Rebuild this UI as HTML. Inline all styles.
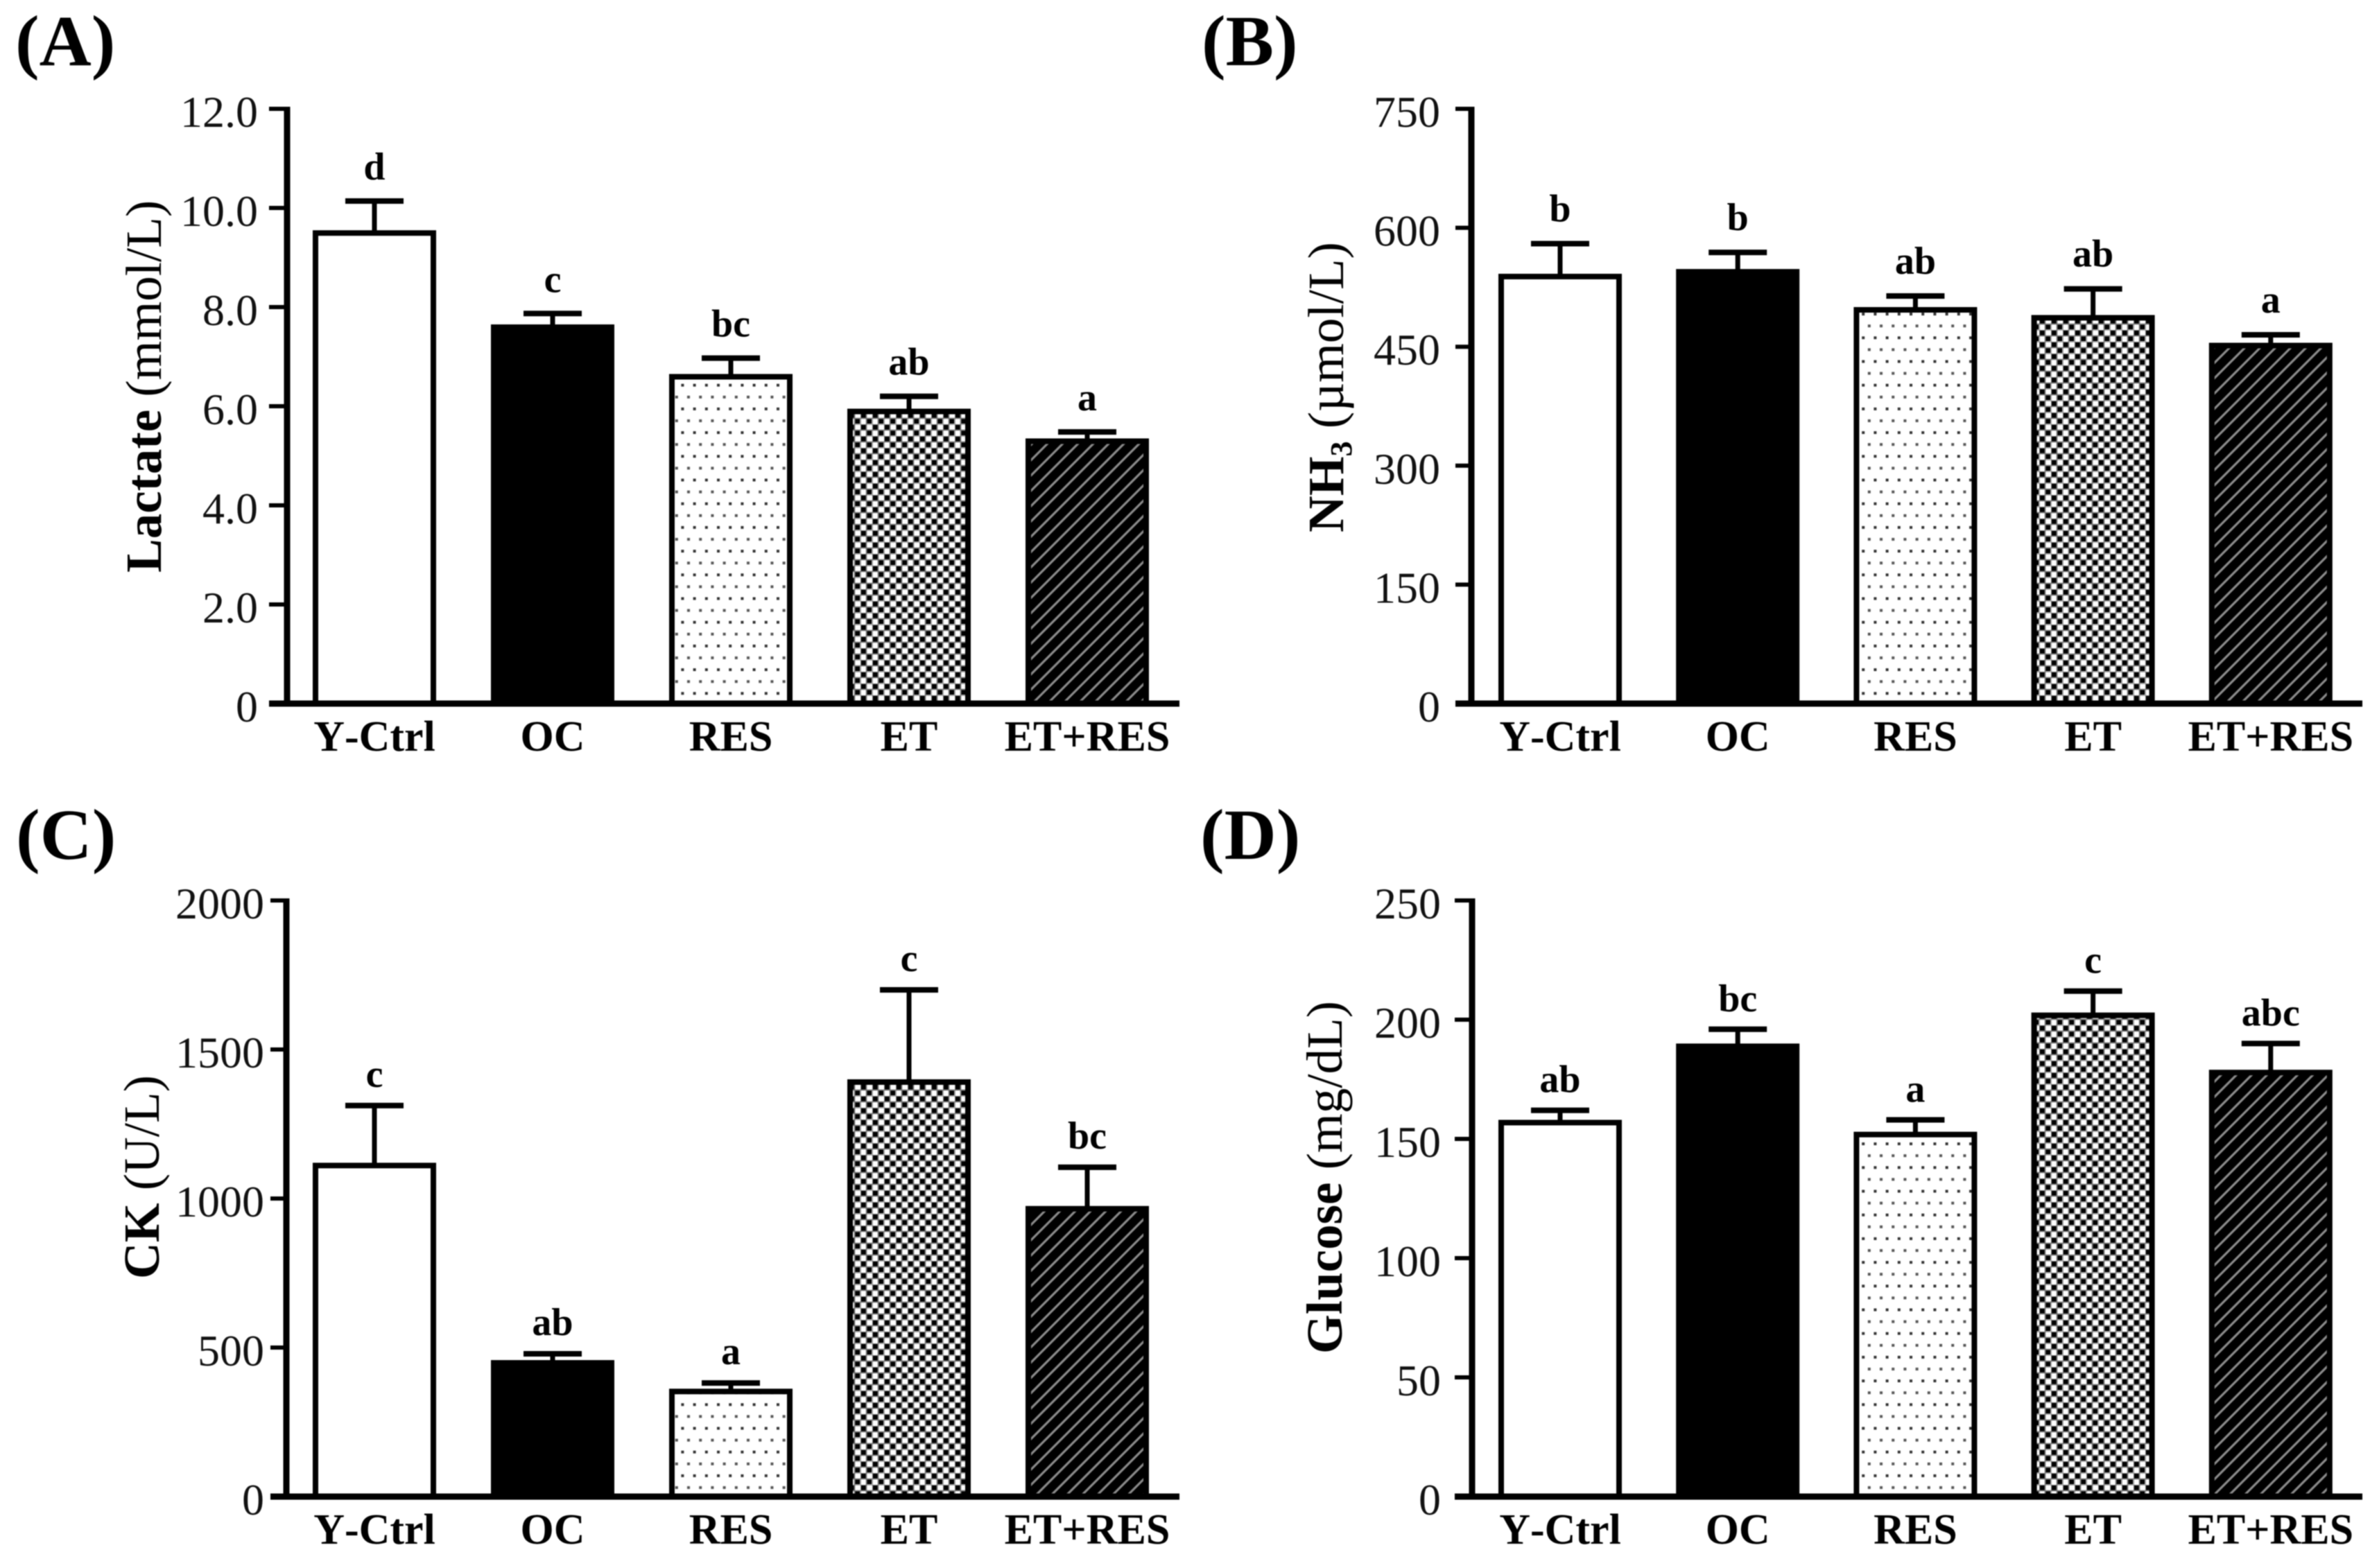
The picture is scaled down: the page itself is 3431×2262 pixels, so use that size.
<!DOCTYPE html>
<html lang="en">
<head>
<meta charset="utf-8">
<title>Lactate, NH3, CK and Glucose bar charts</title>
<style>
html,body{margin:0;padding:0;background:#fff;width:3431px;height:2262px;overflow:hidden}
svg{display:block;position:absolute;left:0;top:0;filter:blur(0.8px)}
text{font-family:"Liberation Serif","Times New Roman",serif;fill:#000}
.panel{font-size:104px;font-weight:bold}
.title{font-size:73px}
.title .b{font-weight:bold}
.tick{font-size:64px;text-anchor:end;fill:#111}
.cat{font-size:62px;font-weight:bold;text-anchor:middle;font-kerning:none}
.sig{font-size:56px;font-weight:bold;text-anchor:middle}
</style>
</head>
<body>
<svg id="fig" xmlns="http://www.w3.org/2000/svg" width="3431" height="2262" viewBox="0 0 3431 2262">
  <defs>
    <pattern id="p-dots" patternUnits="userSpaceOnUse" width="17.2" height="34.2" x="0" y="0">
      <rect width="17.2" height="34.2" fill="#fff"/>
      <rect x="2" y="6.5" width="4" height="4" fill="#333"/>
      <rect x="10.6" y="23.6" width="4" height="4" fill="#555"/>
    </pattern>
    <pattern id="p-check" patternUnits="userSpaceOnUse" width="17" height="17">
      <rect width="17" height="17" fill="#fff"/>
      <rect x="0.8" y="0.8" width="7" height="7" fill="#000"/>
      <rect x="9.3" y="9.3" width="7" height="7" fill="#000"/>
      <path d="M0 0H17M0 8.5H17M8.5 0V17M0 0V17" stroke="#707070" stroke-width="1.6" fill="none"/>
    </pattern>
    <pattern id="p-hatch" patternUnits="userSpaceOnUse" width="15.6" height="15.6" patternTransform="rotate(45)">
      <rect width="15.6" height="15.6" fill="#000"/>
      <rect x="6" y="0" width="3.2" height="15.6" fill="#8c8c8c"/>
    </pattern>
  </defs>

  <text class="panel" x="22" y="94">(A)</text>
  <text class="panel" x="1733" y="94">(B)</text>
  <text class="panel" x="23" y="1239">(C)</text>
  <text class="panel" x="1731" y="1239">(D)</text>

  <text class="title" transform="translate(232 826) rotate(-90)"><tspan class="b">Lactate</tspan> (mmol/L)</text>
  <text class="title" transform="translate(1937 768) rotate(-90)"><tspan class="b">NH</tspan><tspan class="b" font-size="44" dy="12">3</tspan><tspan dy="-12"> (µmol/L)</tspan></text>
  <text class="title" transform="translate(229 1845) rotate(-90)"><tspan class="b">CK</tspan> (U/L)</text>
  <text class="title" transform="translate(1935 1953) rotate(-90)"><tspan class="b">Glucose</tspan> (mg/dL)</text>
</svg>

<script>
// Shared categories
const categories = ['Y-Ctrl', 'OC', 'RES', 'ET', 'ET+RES'];

// Panel A: Lactate (mmol/L)
const lactateTicks = ['0', '2.0', '4.0', '6.0', '8.0', '10.0', '12.0'];
const lactateMeans = [9.55, 7.65, 6.65, 5.95, 5.35];
const lactateErrors = [0.59, 0.22, 0.32, 0.25, 0.13];
const lactateLetters = ['d', 'c', 'bc', 'ab', 'a'];

// Panel B: NH3 (umol/L)
const nh3Ticks = ['0', '150', '300', '450', '600', '750'];
const nh3Means = [542, 548, 500, 490, 455];
const nh3Errors = [38, 21, 14, 33, 10];
const nh3Letters = ['b', 'b', 'ab', 'ab', 'a'];

// Panel C: CK (U/L)
const ckTicks = ['0', '500', '1000', '1500', '2000'];
const ckMeans = [1120, 458, 362, 1400, 975];
const ckErrors = [192, 21, 19, 300, 130];
const ckLetters = ['c', 'ab', 'a', 'c', 'bc'];

// Panel D: Glucose (mg/dL)
const glucoseTicks = ['0', '50', '100', '150', '200', '250'];
const glucoseMeans = [158, 190, 153, 203, 179];
const glucoseErrors = [4, 6, 5, 9, 11];
const glucoseLetters = ['ab', 'bc', 'a', 'c', 'abc'];

const svg = document.getElementById('fig');
const NS = 'http://www.w3.org/2000/svg';
const fills = ['#fff', '#000', 'url(#p-dots)', 'url(#p-check)', 'url(#p-hatch)'];

function make(tag, attrs, parent) {
  const el = document.createElementNS(NS, tag);
  for (const k in attrs) el.setAttribute(k, attrs[k]);
  parent.appendChild(el);
  return el;
}

function drawPanel(cfg) {
  const g = make('g', {}, svg);
  
  

  const tickVals = cfg.ticks.map(parseFloat);
  const yMax = Math.max.apply(null, tickVals);
  const y = v => cfg.base - (v / yMax) * (cfg.base - cfg.top);
  const x = i => cfg.x0 + cfg.dx * i;
  const barW = 178, bw = 8;

  cfg.means.forEach((m, i) => {
    const yTop = y(m);
    const yErr = y(m + cfg.errors[i]);

    const stem = make('line', {x1: x(i), x2: x(i), y1: yErr, y2: yTop + 2, stroke: '#000', 'stroke-width': 7}, g);
    
    

    const cap = make('line', {x1: x(i) - 42, x2: x(i) + 42, y1: yErr, y2: yErr, stroke: '#000', 'stroke-width': 8}, g);
    
    

    const bar = make('rect', {
      x: x(i) - barW / 2 + bw / 2,
      y: yTop + bw / 2,
      width: barW - bw,
      height: Math.max(0, cfg.base - yTop - bw / 2),
      fill: fills[i], stroke: '#000', 'stroke-width': bw
    }, g);
    
    

    const sig = make('text', {class: 'sig', x: x(i), y: yErr - cfg.letterGap}, g);
    sig.textContent = cfg.letters[i];
    
    

    const cat = make('text', {class: 'cat', x: x(i), y: cfg.base + 68}, g);
    cat.textContent = categories[i];
    
    
  });

  const yAxis = make('line', {x1: cfg.axisX, x2: cfg.axisX, y1: cfg.top - 3, y2: cfg.base + 4, stroke: '#000', 'stroke-width': 9}, g);
  
  

  const xAxis = make('line', {x1: cfg.tickLeft, x2: cfg.xEnd, y1: cfg.base, y2: cfg.base, stroke: '#000', 'stroke-width': 9}, g);
  
  

  cfg.ticks.forEach((t, i) => {
    const v = tickVals[i];
    if (v !== 0) {
      const mark = make('line', {x1: cfg.tickLeft, x2: cfg.axisX, y1: y(v), y2: y(v), stroke: '#000', 'stroke-width': 6}, g);
      
      
    }
    const lab = make('text', {class: 'tick', x: cfg.labelRight, y: y(v) + 26}, g);
    lab.textContent = t;
    
    
  });
}

drawPanel({key: 'lactate', ticks: lactateTicks, means: lactateMeans, errors: lactateErrors, letters: lactateLetters, letterGap: 31,
  top: 157, base: 1015, axisX: 414, tickLeft: 388, xEnd: 1701, labelRight: 372, x0: 540, dx: 257});
drawPanel({key: 'nh3', ticks: nh3Ticks, means: nh3Means, errors: nh3Errors, letters: nh3Letters, letterGap: 32,
  top: 157, base: 1015, axisX: 2122, tickLeft: 2099, xEnd: 3407, labelRight: 2077, x0: 2250, dx: 256.2});
drawPanel({key: 'ck', ticks: ckTicks, means: ckMeans, errors: ckErrors, letters: ckLetters, letterGap: 27,
  top: 1299, base: 2159, axisX: 413, tickLeft: 390, xEnd: 1701, labelRight: 381, x0: 540, dx: 257});
drawPanel({key: 'glucose', ticks: glucoseTicks, means: glucoseMeans, errors: glucoseErrors, letters: glucoseLetters, letterGap: 26,
  top: 1299, base: 2159, axisX: 2123, tickLeft: 2098, xEnd: 3407, labelRight: 2078, x0: 2250, dx: 256.2});
</script>
</body>
</html>
